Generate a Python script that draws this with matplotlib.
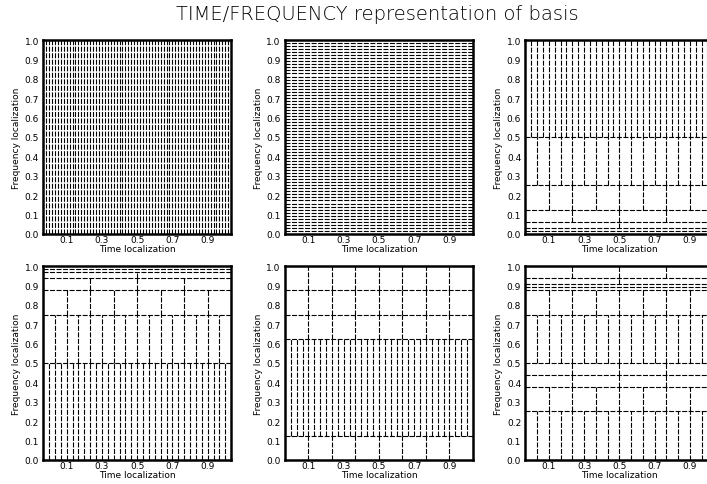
import numpy as np
import matplotlib.pyplot as plt

plt.rcParams['lines.scale_dashes'] = False
plt.rcParams['font.family'] = 'DejaVu Sans'

# leaves of each wavelet packet tree, listed from low to high frequency.
# signal has 64 samples: a leaf at depth d covers 2**-d of the frequency
# axis and holds 64 / 2**d coefficients in time
n_samples = 64
tree_dirac = [0]
tree_fourier = [6] * 64
tree_wavelet = [6, 6, 5, 4, 3, 2, 1]
tree_mirror = [1, 2, 3, 4, 5, 6, 6]
tree_packet_a = [3, 1, 3, 3, 3]
tree_packet_b = [2, 3, 4, 4, 2, 3, 6, 6, 5, 4]

trees = [tree_dirac, tree_fourier, tree_wavelet,
         tree_mirror, tree_packet_a, tree_packet_b]

xtick_values = [0.1, 0.3, 0.5, 0.7, 0.9]
ytick_values = [0.0, 0.1, 0.2, 0.3, 0.4, 0.5, 0.6, 0.7, 0.8, 0.9, 1.0]

dash = (0, (3.6, 1.1))


def draw_tiling(ax, depths):
    f0 = 0.0
    for d in depths:
        f1 = f0 + 2.0 ** -d
        ncols = n_samples // 2 ** d
        for k in range(1, ncols):
            ax.plot([k / ncols, k / ncols], [f0, f1], color='k', lw=0.8, ls=dash)
        if f1 < 1:
            ax.plot([0, 1], [f1, f1], color='k', lw=0.8, ls=dash)
        f0 = f1


fig = plt.figure(figsize=(7.07, 4.85), dpi=100)
fig.text(0.534, 0.970, 'TIME/FREQUENCY representation of basis',
         ha='center', va='center', fontsize=14, fontweight='light', color='k')

lefts = [0.061, 0.403, 0.743]
bottoms = [0.516, 0.05]
w, h = 0.266, 0.399

for i, depths in enumerate(trees):
    ax = fig.add_axes([lefts[i % 3], bottoms[i // 3], w, h])
    draw_tiling(ax, depths)
    ax.set_xlim(0, 1)
    ax.set_ylim(0, 1)
    # time labels sit on a slightly compressed scale
    ax.set_xticks([1 / 32 + v * 15 / 16 for v in xtick_values],
                  ['%.1f' % v for v in xtick_values])
    ax.set_yticks(ytick_values, ['%.1f' % v for v in ytick_values])
    ax.tick_params(length=0, labelsize=6.5)
    ax.tick_params(axis='x', pad=1)
    ax.tick_params(axis='y', pad=3)
    for s in ax.spines.values():
        s.set_linewidth(1.8)
    ax.set_xlabel('Time localization', fontsize=6.5, labelpad=0)
    ax.set_ylabel('Frequency localization', fontsize=6.5, labelpad=2.5)

fig.savefig('out.png', dpi=100)
